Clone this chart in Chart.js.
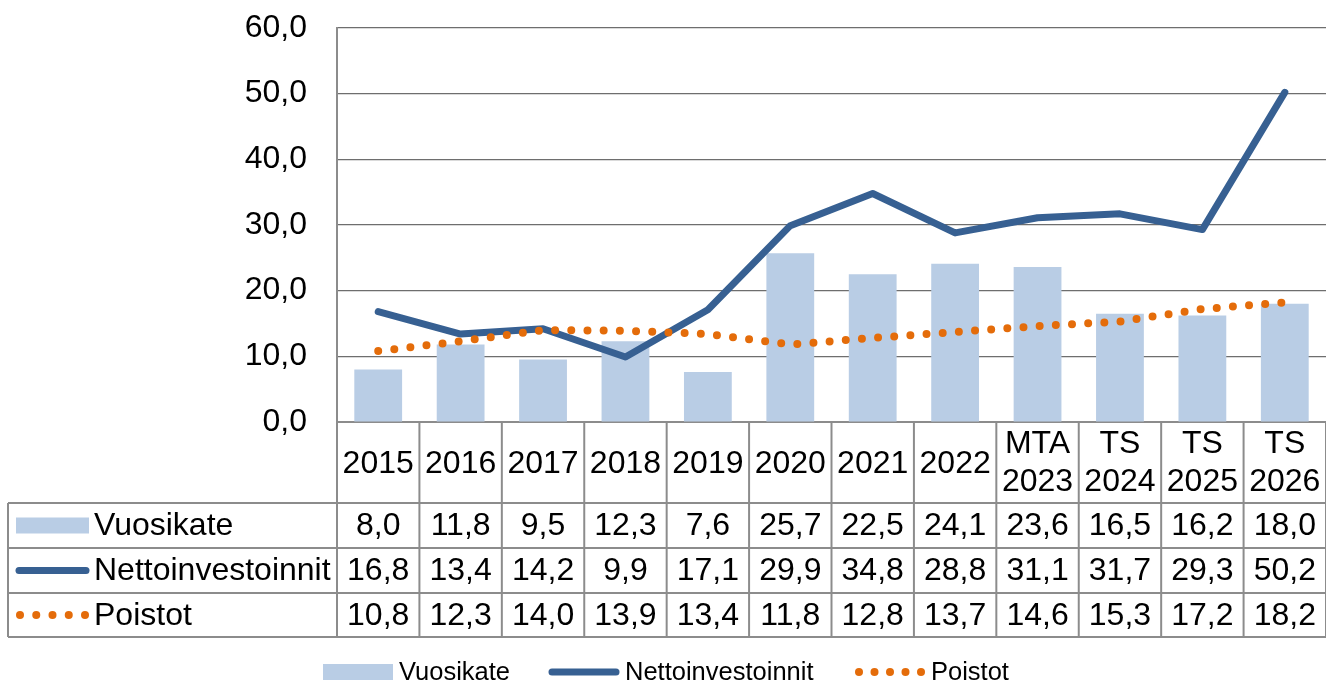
<!DOCTYPE html>
<html>
<head>
<meta charset="utf-8">
<script src="https://cdn.jsdelivr.net/npm/chart.js@4.4.0/dist/chart.umd.min.js"></script>
<style>
  html, body { margin: 0; padding: 0; background: #fff; }
</style>
</head>
<body>
<canvas id="chart" width="1326" height="684"></canvas>
<script>
// categories (multi-line ones as arrays)
const years = ['2015', '2016', '2017', '2018', '2019', '2020', '2021', '2022',
    ['MTA', '2023'], ['TS', '2024'], ['TS', '2025'], ['TS', '2026']];
const vuosikate = [8.0, 11.8, 9.5, 12.3, 7.6, 25.7, 22.5, 24.1, 23.6, 16.5, 16.2, 18.0];
const nettoinvestoinnit = [16.8, 13.4, 14.2, 9.9, 17.1, 29.9, 34.8, 28.8, 31.1, 31.7, 29.3, 50.2];
const poistot = [10.8, 12.3, 14.0, 13.9, 13.4, 11.8, 12.8, 13.7, 14.6, 15.3, 17.2, 18.2];
const yTicks = [0, 10, 20, 30, 40, 50, 60];

const FONT = '"Liberation Sans", Arial, sans-serif';
const BAR_COLOR = '#B9CDE5';
const LINE_COLOR = '#376092';
const DOT_COLOR = '#E46C0A';
const GRID_GRAY = '#8c8c8c';

const fmt = v => v.toFixed(1).replace('.', ',');

// legend key shapes, reused by the table and the bottom legend
function drawKey(ctx, type, x1, x2, y) {
    ctx.save();
    if (type === 'bar') {
        ctx.fillStyle = BAR_COLOR;
        ctx.fillRect(x1, y - 8, x2 - x1, 16);
    } else if (type === 'line') {
        ctx.strokeStyle = LINE_COLOR;
        ctx.lineWidth = 7;
        ctx.lineCap = 'round';
        ctx.beginPath();
        ctx.moveTo(x1 + 3, y);
        ctx.lineTo(x2 - 3, y);
        ctx.stroke();
    } else {
        ctx.fillStyle = DOT_COLOR;
        const n = 5;
        for (let i = 0; i < n; i++) {
            const cx = x1 + 4 + i * (x2 - x1 - 8) / (n - 1);
            ctx.beginPath();
            ctx.arc(cx, y, 4, 0, Math.PI * 2);
            ctx.fill();
        }
    }
    ctx.restore();
}

const dataTable = {
    id: 'dataTable',
    afterDraw(chart) {
        const ctx = chart.ctx;
        const x = chart.scales.x;
        const area = chart.chartArea;
        const step = (area.right - area.left) / years.length;
        const top = area.bottom;
        const rowY = [503, 548, 593, 637];
        const tableLeft = 8;

        ctx.save();
        ctx.strokeStyle = GRID_GRAY;
        ctx.lineWidth = 2;

        // horizontal rules
        rowY.forEach(y => {
            ctx.beginPath();
            ctx.moveTo(tableLeft, y);
            ctx.lineTo(area.right, y);
            ctx.stroke();
        });
        // left edge of the series label column
        ctx.beginPath();
        ctx.moveTo(tableLeft, rowY[0]);
        ctx.lineTo(tableLeft, rowY[3]);
        ctx.stroke();
        // column separators
        for (let i = 0; i <= years.length; i++) {
            const cx = area.left + i * step;
            ctx.beginPath();
            ctx.moveTo(cx, top);
            ctx.lineTo(cx, rowY[3]);
            ctx.stroke();
        }

        ctx.fillStyle = '#000';
        ctx.font = '32px ' + FONT;
        ctx.textAlign = 'center';
        ctx.textBaseline = 'middle';

        // header labels
        years.forEach((lab, i) => {
            const cx = x.getPixelForValue(i);
            if (Array.isArray(lab)) {
                ctx.fillText(lab[0], cx, 444);
                ctx.fillText(lab[1], cx, 482);
            } else {
                ctx.fillText(lab, cx, 464);
            }
        });

        // value rows
        const rows = [
            { name: 'Vuosikate', type: 'bar', values: vuosikate },
            { name: 'Nettoinvestoinnit', type: 'line', values: nettoinvestoinnit },
            { name: 'Poistot', type: 'dot', values: poistot }
        ];
        rows.forEach((row, r) => {
            const cy = (rowY[r] + rowY[r + 1]) / 2 + 1;
            ctx.textAlign = 'center';
            row.values.forEach((v, i) => {
                ctx.fillText(fmt(v), x.getPixelForValue(i), cy);
            });
            drawKey(ctx, row.type, 16, 89, cy - 1);
            ctx.textAlign = 'left';
            ctx.fillText(row.name, 94, cy);
        });

        // bottom legend
        const legend = [
            { name: 'Vuosikate', type: 'bar', x: 323 },
            { name: 'Nettoinvestoinnit', type: 'line', x: 549 },
            { name: 'Poistot', type: 'dot', x: 855 }
        ];
        ctx.font = '25.5px ' + FONT;
        ctx.textAlign = 'left';
        legend.forEach(item => {
            drawKey(ctx, item.type, item.x, item.x + 70, 672);
            ctx.fillText(item.name, item.x + 76, 673);
        });
        ctx.restore();
    }
};

new Chart(document.getElementById('chart'), {
    data: {
        labels: years,
        datasets: [
            {
                type: 'line',
                label: 'Poistot',
                data: poistot,
                borderColor: DOT_COLOR,
                borderWidth: 8,
                borderDash: [0, 16.2],
                borderCapStyle: 'round',
                pointRadius: 0,
                tension: 0,
                order: 0
            },
            {
                type: 'line',
                label: 'Nettoinvestoinnit',
                data: nettoinvestoinnit,
                borderColor: LINE_COLOR,
                borderWidth: 7,
                borderCapStyle: 'round',
                borderJoinStyle: 'round',
                pointRadius: 0,
                tension: 0,
                order: 1
            },
            {
                type: 'bar',
                label: 'Vuosikate',
                data: vuosikate,
                backgroundColor: BAR_COLOR,
                categoryPercentage: 1,
                barPercentage: 0.58,
                order: 2
            }
        ]
    },
    options: {
        responsive: false,
        devicePixelRatio: 1,
        animation: false,
        layout: { padding: { top: 28, left: 0, right: 0, bottom: 0 } },
        scales: {
            x: {
                offset: true,
                grid: { display: false },
                ticks: { display: false },
                border: { color: GRID_GRAY, width: 2 },
                afterFit: scale => {
                    scale.height = 262;
                    scale.paddingLeft = 0;
                    scale.paddingRight = 0;
                }
            },
            y: {
                min: 0,
                max: 60,
                afterBuildTicks: scale => { scale.ticks = yTicks.map(v => ({ value: v })); },
                ticks: {
                    padding: 30,
                    color: '#000',
                    font: { family: FONT, size: 32 },
                    callback: v => fmt(v)
                },
                grid: { color: '#6e6e6e', lineWidth: 1.2, drawTicks: false },
                border: { color: GRID_GRAY, width: 2 },
                afterFit: scale => {
                    // keep the plot top exactly at the 60,0 line position
                    scale.width = 337;
                    scale.paddingTop = 0;
                    scale.paddingBottom = 0;
                }
            }
        },
        plugins: {
            legend: { display: false },
            tooltip: { enabled: false }
        }
    },
    plugins: [dataTable]
});
</script>
</body>
</html>
